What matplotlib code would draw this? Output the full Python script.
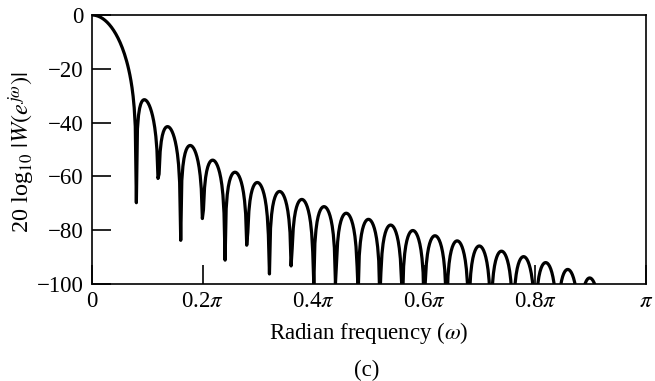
import numpy as np
import matplotlib
matplotlib.use("Agg")
import matplotlib.pyplot as plt

plt.rcParams['font.family'] = ['Liberation Serif', 'DejaVu Serif']
plt.rcParams['mathtext.fontset'] = 'stix'

# Hann window, M = 50 (the window whose spectrum is shown)
M = 50
n_fft = 1024
x_ticks = [0, 0.2, 0.4, 0.6, 0.8, 1.0]
x_tick_labels = ['0', r'0.2$\pi$', r'0.4$\pi$', r'0.6$\pi$', r'0.8$\pi$', r'$\pi$']
y_ticks = [0, -20, -40, -60, -80, -100]

n = np.arange(M + 1)
w = 0.5 - 0.5 * np.cos(2 * np.pi * n / M)
W = np.fft.rfft(w, n_fft)
omega = np.arange(len(W)) * 2 / n_fft   # in units of pi
mag = np.abs(W) / np.abs(W).max()
db = 20 * np.log10(np.maximum(mag, 1e-12))

fig = plt.figure(figsize=(6.55, 3.81), dpi=100)
ax = fig.add_axes([92 / 655, 1 - 284 / 381, (646 - 92) / 655, (284 - 15) / 381])
ax.plot(omega, db, color='black', lw=2.3)
ax.set_xlim(0, 1)
ax.set_ylim(-100, 0)
ax.set_xticks(x_ticks)
ax.set_xticklabels(x_tick_labels)
ax.set_yticks(y_ticks)
ax.set_yticklabels([str(v).replace('-', '\u2212') for v in y_ticks])
ax.tick_params(direction='in', length=14, width=1.2, labelsize=16.5,
               top=False, right=False)
ax.tick_params(axis='x', pad=5)
ax.tick_params(axis='y', pad=6)
for s in ax.spines.values():
    s.set_linewidth(1.2)
ax.set_xlabel(r'Radian frequency ($\omega$)', fontsize=16.5)
ax.xaxis.set_label_coords(0.5, -0.135)
ax.set_ylabel(r'20 log$_{10}$ $|W(e^{j\omega})|$', fontsize=17.5)
ax.yaxis.set_label_coords(-0.1, 0.49)
fig.text(367 / 655, 1 - 370 / 381, '(c)', ha='center', va='center', fontsize=16.5)

fig.savefig('out.png', dpi=100)
